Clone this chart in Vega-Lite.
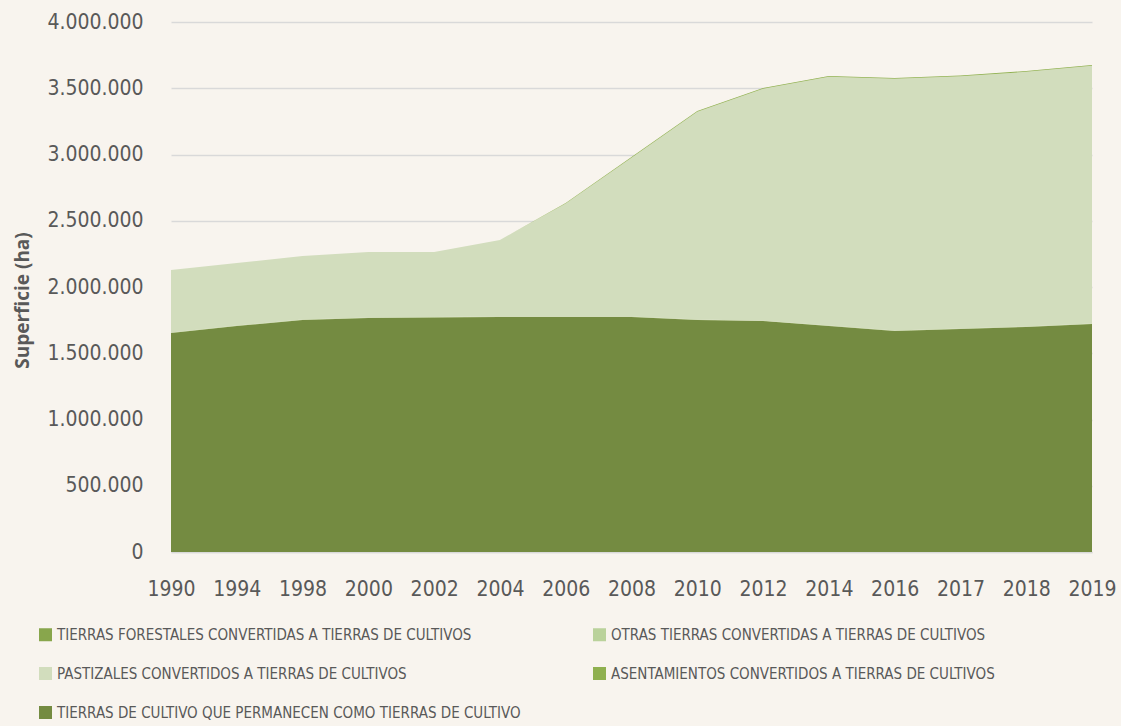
{
  "$schema": "https://vega.github.io/schema/vega-lite/v6.json",
  "width": 921,
  "height": 530,
  "autosize": {"type": "none"},
  "padding": {"left": 171, "top": 22, "right": 29, "bottom": 174},
  "background": "#f8f4ee",
  "config": {
    "view": {"stroke": null},
    "font": "DejaVu Sans Condensed, Roboto",
    "axis": {"labelColor": "#595959", "titleColor": "#595959"}
  },
  "data": {
    "values": [
      {"anio": "1990", "serie": "TIERRAS DE CULTIVO QUE PERMANECEN COMO TIERRAS DE CULTIVO", "ha": 1653000},
      {"anio": "1994", "serie": "TIERRAS DE CULTIVO QUE PERMANECEN COMO TIERRAS DE CULTIVO", "ha": 1706000},
      {"anio": "1998", "serie": "TIERRAS DE CULTIVO QUE PERMANECEN COMO TIERRAS DE CULTIVO", "ha": 1751000},
      {"anio": "2000", "serie": "TIERRAS DE CULTIVO QUE PERMANECEN COMO TIERRAS DE CULTIVO", "ha": 1766000},
      {"anio": "2002", "serie": "TIERRAS DE CULTIVO QUE PERMANECEN COMO TIERRAS DE CULTIVO", "ha": 1770000},
      {"anio": "2004", "serie": "TIERRAS DE CULTIVO QUE PERMANECEN COMO TIERRAS DE CULTIVO", "ha": 1774000},
      {"anio": "2006", "serie": "TIERRAS DE CULTIVO QUE PERMANECEN COMO TIERRAS DE CULTIVO", "ha": 1774000},
      {"anio": "2008", "serie": "TIERRAS DE CULTIVO QUE PERMANECEN COMO TIERRAS DE CULTIVO", "ha": 1774000},
      {"anio": "2010", "serie": "TIERRAS DE CULTIVO QUE PERMANECEN COMO TIERRAS DE CULTIVO", "ha": 1751000},
      {"anio": "2012", "serie": "TIERRAS DE CULTIVO QUE PERMANECEN COMO TIERRAS DE CULTIVO", "ha": 1743000},
      {"anio": "2014", "serie": "TIERRAS DE CULTIVO QUE PERMANECEN COMO TIERRAS DE CULTIVO", "ha": 1706000},
      {"anio": "2016", "serie": "TIERRAS DE CULTIVO QUE PERMANECEN COMO TIERRAS DE CULTIVO", "ha": 1668000},
      {"anio": "2017", "serie": "TIERRAS DE CULTIVO QUE PERMANECEN COMO TIERRAS DE CULTIVO", "ha": 1683000},
      {"anio": "2018", "serie": "TIERRAS DE CULTIVO QUE PERMANECEN COMO TIERRAS DE CULTIVO", "ha": 1698000},
      {"anio": "2019", "serie": "TIERRAS DE CULTIVO QUE PERMANECEN COMO TIERRAS DE CULTIVO", "ha": 1721000},

      {"anio": "1990", "serie": "TIERRAS FORESTALES CONVERTIDAS A TIERRAS DE CULTIVOS", "ha": 2000},
      {"anio": "1994", "serie": "TIERRAS FORESTALES CONVERTIDAS A TIERRAS DE CULTIVOS", "ha": 2000},
      {"anio": "1998", "serie": "TIERRAS FORESTALES CONVERTIDAS A TIERRAS DE CULTIVOS", "ha": 2000},
      {"anio": "2000", "serie": "TIERRAS FORESTALES CONVERTIDAS A TIERRAS DE CULTIVOS", "ha": 2000},
      {"anio": "2002", "serie": "TIERRAS FORESTALES CONVERTIDAS A TIERRAS DE CULTIVOS", "ha": 2000},
      {"anio": "2004", "serie": "TIERRAS FORESTALES CONVERTIDAS A TIERRAS DE CULTIVOS", "ha": 2000},
      {"anio": "2006", "serie": "TIERRAS FORESTALES CONVERTIDAS A TIERRAS DE CULTIVOS", "ha": 2000},
      {"anio": "2008", "serie": "TIERRAS FORESTALES CONVERTIDAS A TIERRAS DE CULTIVOS", "ha": 2000},
      {"anio": "2010", "serie": "TIERRAS FORESTALES CONVERTIDAS A TIERRAS DE CULTIVOS", "ha": 2000},
      {"anio": "2012", "serie": "TIERRAS FORESTALES CONVERTIDAS A TIERRAS DE CULTIVOS", "ha": 2000},
      {"anio": "2014", "serie": "TIERRAS FORESTALES CONVERTIDAS A TIERRAS DE CULTIVOS", "ha": 2000},
      {"anio": "2016", "serie": "TIERRAS FORESTALES CONVERTIDAS A TIERRAS DE CULTIVOS", "ha": 2000},
      {"anio": "2017", "serie": "TIERRAS FORESTALES CONVERTIDAS A TIERRAS DE CULTIVOS", "ha": 2000},
      {"anio": "2018", "serie": "TIERRAS FORESTALES CONVERTIDAS A TIERRAS DE CULTIVOS", "ha": 2000},
      {"anio": "2019", "serie": "TIERRAS FORESTALES CONVERTIDAS A TIERRAS DE CULTIVOS", "ha": 2000},

      {"anio": "1990", "serie": "OTRAS TIERRAS CONVERTIDAS A TIERRAS DE CULTIVOS", "ha": 1000},
      {"anio": "1994", "serie": "OTRAS TIERRAS CONVERTIDAS A TIERRAS DE CULTIVOS", "ha": 1000},
      {"anio": "1998", "serie": "OTRAS TIERRAS CONVERTIDAS A TIERRAS DE CULTIVOS", "ha": 1000},
      {"anio": "2000", "serie": "OTRAS TIERRAS CONVERTIDAS A TIERRAS DE CULTIVOS", "ha": 1000},
      {"anio": "2002", "serie": "OTRAS TIERRAS CONVERTIDAS A TIERRAS DE CULTIVOS", "ha": 1000},
      {"anio": "2004", "serie": "OTRAS TIERRAS CONVERTIDAS A TIERRAS DE CULTIVOS", "ha": 1000},
      {"anio": "2006", "serie": "OTRAS TIERRAS CONVERTIDAS A TIERRAS DE CULTIVOS", "ha": 1000},
      {"anio": "2008", "serie": "OTRAS TIERRAS CONVERTIDAS A TIERRAS DE CULTIVOS", "ha": 1000},
      {"anio": "2010", "serie": "OTRAS TIERRAS CONVERTIDAS A TIERRAS DE CULTIVOS", "ha": 1000},
      {"anio": "2012", "serie": "OTRAS TIERRAS CONVERTIDAS A TIERRAS DE CULTIVOS", "ha": 1000},
      {"anio": "2014", "serie": "OTRAS TIERRAS CONVERTIDAS A TIERRAS DE CULTIVOS", "ha": 1000},
      {"anio": "2016", "serie": "OTRAS TIERRAS CONVERTIDAS A TIERRAS DE CULTIVOS", "ha": 1000},
      {"anio": "2017", "serie": "OTRAS TIERRAS CONVERTIDAS A TIERRAS DE CULTIVOS", "ha": 1000},
      {"anio": "2018", "serie": "OTRAS TIERRAS CONVERTIDAS A TIERRAS DE CULTIVOS", "ha": 1000},
      {"anio": "2019", "serie": "OTRAS TIERRAS CONVERTIDAS A TIERRAS DE CULTIVOS", "ha": 1000},

      {"anio": "1990", "serie": "PASTIZALES CONVERTIDOS A TIERRAS DE CULTIVOS", "ha": 472000},
      {"anio": "1994", "serie": "PASTIZALES CONVERTIDOS A TIERRAS DE CULTIVOS", "ha": 472000},
      {"anio": "1998", "serie": "PASTIZALES CONVERTIDOS A TIERRAS DE CULTIVOS", "ha": 480000},
      {"anio": "2000", "serie": "PASTIZALES CONVERTIDOS A TIERRAS DE CULTIVOS", "ha": 495000},
      {"anio": "2002", "serie": "PASTIZALES CONVERTIDOS A TIERRAS DE CULTIVOS", "ha": 491000},
      {"anio": "2004", "serie": "PASTIZALES CONVERTIDOS A TIERRAS DE CULTIVOS", "ha": 578000},
      {"anio": "2006", "serie": "PASTIZALES CONVERTIDOS A TIERRAS DE CULTIVOS", "ha": 854000},
      {"anio": "2008", "serie": "PASTIZALES CONVERTIDOS A TIERRAS DE CULTIVOS", "ha": 1198000},
      {"anio": "2010", "serie": "PASTIZALES CONVERTIDOS A TIERRAS DE CULTIVOS", "ha": 1568000},
      {"anio": "2012", "serie": "PASTIZALES CONVERTIDOS A TIERRAS DE CULTIVOS", "ha": 1750000},
      {"anio": "2014", "serie": "PASTIZALES CONVERTIDOS A TIERRAS DE CULTIVOS", "ha": 1877000},
      {"anio": "2016", "serie": "PASTIZALES CONVERTIDOS A TIERRAS DE CULTIVOS", "ha": 1900000},
      {"anio": "2017", "serie": "PASTIZALES CONVERTIDOS A TIERRAS DE CULTIVOS", "ha": 1904000},
      {"anio": "2018", "serie": "PASTIZALES CONVERTIDOS A TIERRAS DE CULTIVOS", "ha": 1923000},
      {"anio": "2019", "serie": "PASTIZALES CONVERTIDOS A TIERRAS DE CULTIVOS", "ha": 1945000},

      {"anio": "1990", "serie": "ASENTAMIENTOS CONVERTIDOS A TIERRAS DE CULTIVOS", "ha": 0},
      {"anio": "1994", "serie": "ASENTAMIENTOS CONVERTIDOS A TIERRAS DE CULTIVOS", "ha": 0},
      {"anio": "1998", "serie": "ASENTAMIENTOS CONVERTIDOS A TIERRAS DE CULTIVOS", "ha": 0},
      {"anio": "2000", "serie": "ASENTAMIENTOS CONVERTIDOS A TIERRAS DE CULTIVOS", "ha": 0},
      {"anio": "2002", "serie": "ASENTAMIENTOS CONVERTIDOS A TIERRAS DE CULTIVOS", "ha": 0},
      {"anio": "2004", "serie": "ASENTAMIENTOS CONVERTIDOS A TIERRAS DE CULTIVOS", "ha": 0},
      {"anio": "2006", "serie": "ASENTAMIENTOS CONVERTIDOS A TIERRAS DE CULTIVOS", "ha": 3000},
      {"anio": "2008", "serie": "ASENTAMIENTOS CONVERTIDOS A TIERRAS DE CULTIVOS", "ha": 6000},
      {"anio": "2010", "serie": "ASENTAMIENTOS CONVERTIDOS A TIERRAS DE CULTIVOS", "ha": 6000},
      {"anio": "2012", "serie": "ASENTAMIENTOS CONVERTIDOS A TIERRAS DE CULTIVOS", "ha": 6000},
      {"anio": "2014", "serie": "ASENTAMIENTOS CONVERTIDOS A TIERRAS DE CULTIVOS", "ha": 6000},
      {"anio": "2016", "serie": "ASENTAMIENTOS CONVERTIDOS A TIERRAS DE CULTIVOS", "ha": 6000},
      {"anio": "2017", "serie": "ASENTAMIENTOS CONVERTIDOS A TIERRAS DE CULTIVOS", "ha": 6000},
      {"anio": "2018", "serie": "ASENTAMIENTOS CONVERTIDOS A TIERRAS DE CULTIVOS", "ha": 6000},
      {"anio": "2019", "serie": "ASENTAMIENTOS CONVERTIDOS A TIERRAS DE CULTIVOS", "ha": 6000}
    ]
  },
  "transform": [
    {"calculate": "indexof(['TIERRAS DE CULTIVO QUE PERMANECEN COMO TIERRAS DE CULTIVO','TIERRAS FORESTALES CONVERTIDAS A TIERRAS DE CULTIVOS','OTRAS TIERRAS CONVERTIDAS A TIERRAS DE CULTIVOS','PASTIZALES CONVERTIDOS A TIERRAS DE CULTIVOS','ASENTAMIENTOS CONVERTIDOS A TIERRAS DE CULTIVOS'], datum.serie)", "as": "orden"}
  ],
  "mark": {"type": "area", "interpolate": "linear"},
  "encoding": {
    "x": {
      "field": "anio",
      "type": "ordinal",
      "scale": {"type": "point", "padding": 0},
      "axis": {
        "title": null,
        "labelAngle": 0,
        "labelFontSize": 21,
        "labelPadding": 26,
        "ticks": false,
        "domain": true,
        "domainColor": "#d9d9d9",
        "domainWidth": 1.5,
        "grid": false
      }
    },
    "y": {
      "field": "ha",
      "type": "quantitative",
      "aggregate": "sum",
      "stack": "zero",
      "scale": {"domain": [0, 4000000]},
      "axis": {
        "title": "Superficie (ha)",
        "titleFontSize": 19,
        "titleFont": "Open Sans",
        "titleFontWeight": "bold",
        "titlePadding": 14,
        "titleY": 278,
        "values": [0, 500000, 1000000, 1500000, 2000000, 2500000, 3000000, 3500000, 4000000],
        "labelExpr": "replace(format(datum.value, ',d'), /,/g, '.')",
        "labelFontSize": 21,
        "labelPadding": 28,
        "ticks": false,
        "domain": false,
        "grid": true,
        "gridColor": "#d9d9d9",
        "gridWidth": 1.5
      }
    },
    "color": {
      "field": "serie",
      "type": "nominal",
      "scale": {
        "domain": [
          "TIERRAS FORESTALES CONVERTIDAS A TIERRAS DE CULTIVOS",
          "PASTIZALES CONVERTIDOS A TIERRAS DE CULTIVOS",
          "TIERRAS DE CULTIVO QUE PERMANECEN COMO TIERRAS DE CULTIVO",
          "OTRAS TIERRAS CONVERTIDAS A TIERRAS DE CULTIVOS",
          "ASENTAMIENTOS CONVERTIDOS A TIERRAS DE CULTIVOS"
        ],
        "range": ["#88a64c", "#d2ddbd", "#748b41", "#bad29b", "#8fb04f"]
      },
      "legend": {
        "title": null,
        "orient": "none",
        "legendX": -133,
        "legendY": 605,
        "columns": 2,
        "columnPadding": 71,
        "rowPadding": 23,
        "symbolType": "square",
        "symbolSize": 169,
        "symbolStrokeWidth": 0,
        "labelFontSize": 15,
        "labelColor": "#595959",
        "labelOffset": 4,
        "labelLimit": 800
      }
    },
    "order": {"field": "orden", "type": "quantitative", "sort": "ascending"}
  }
}
